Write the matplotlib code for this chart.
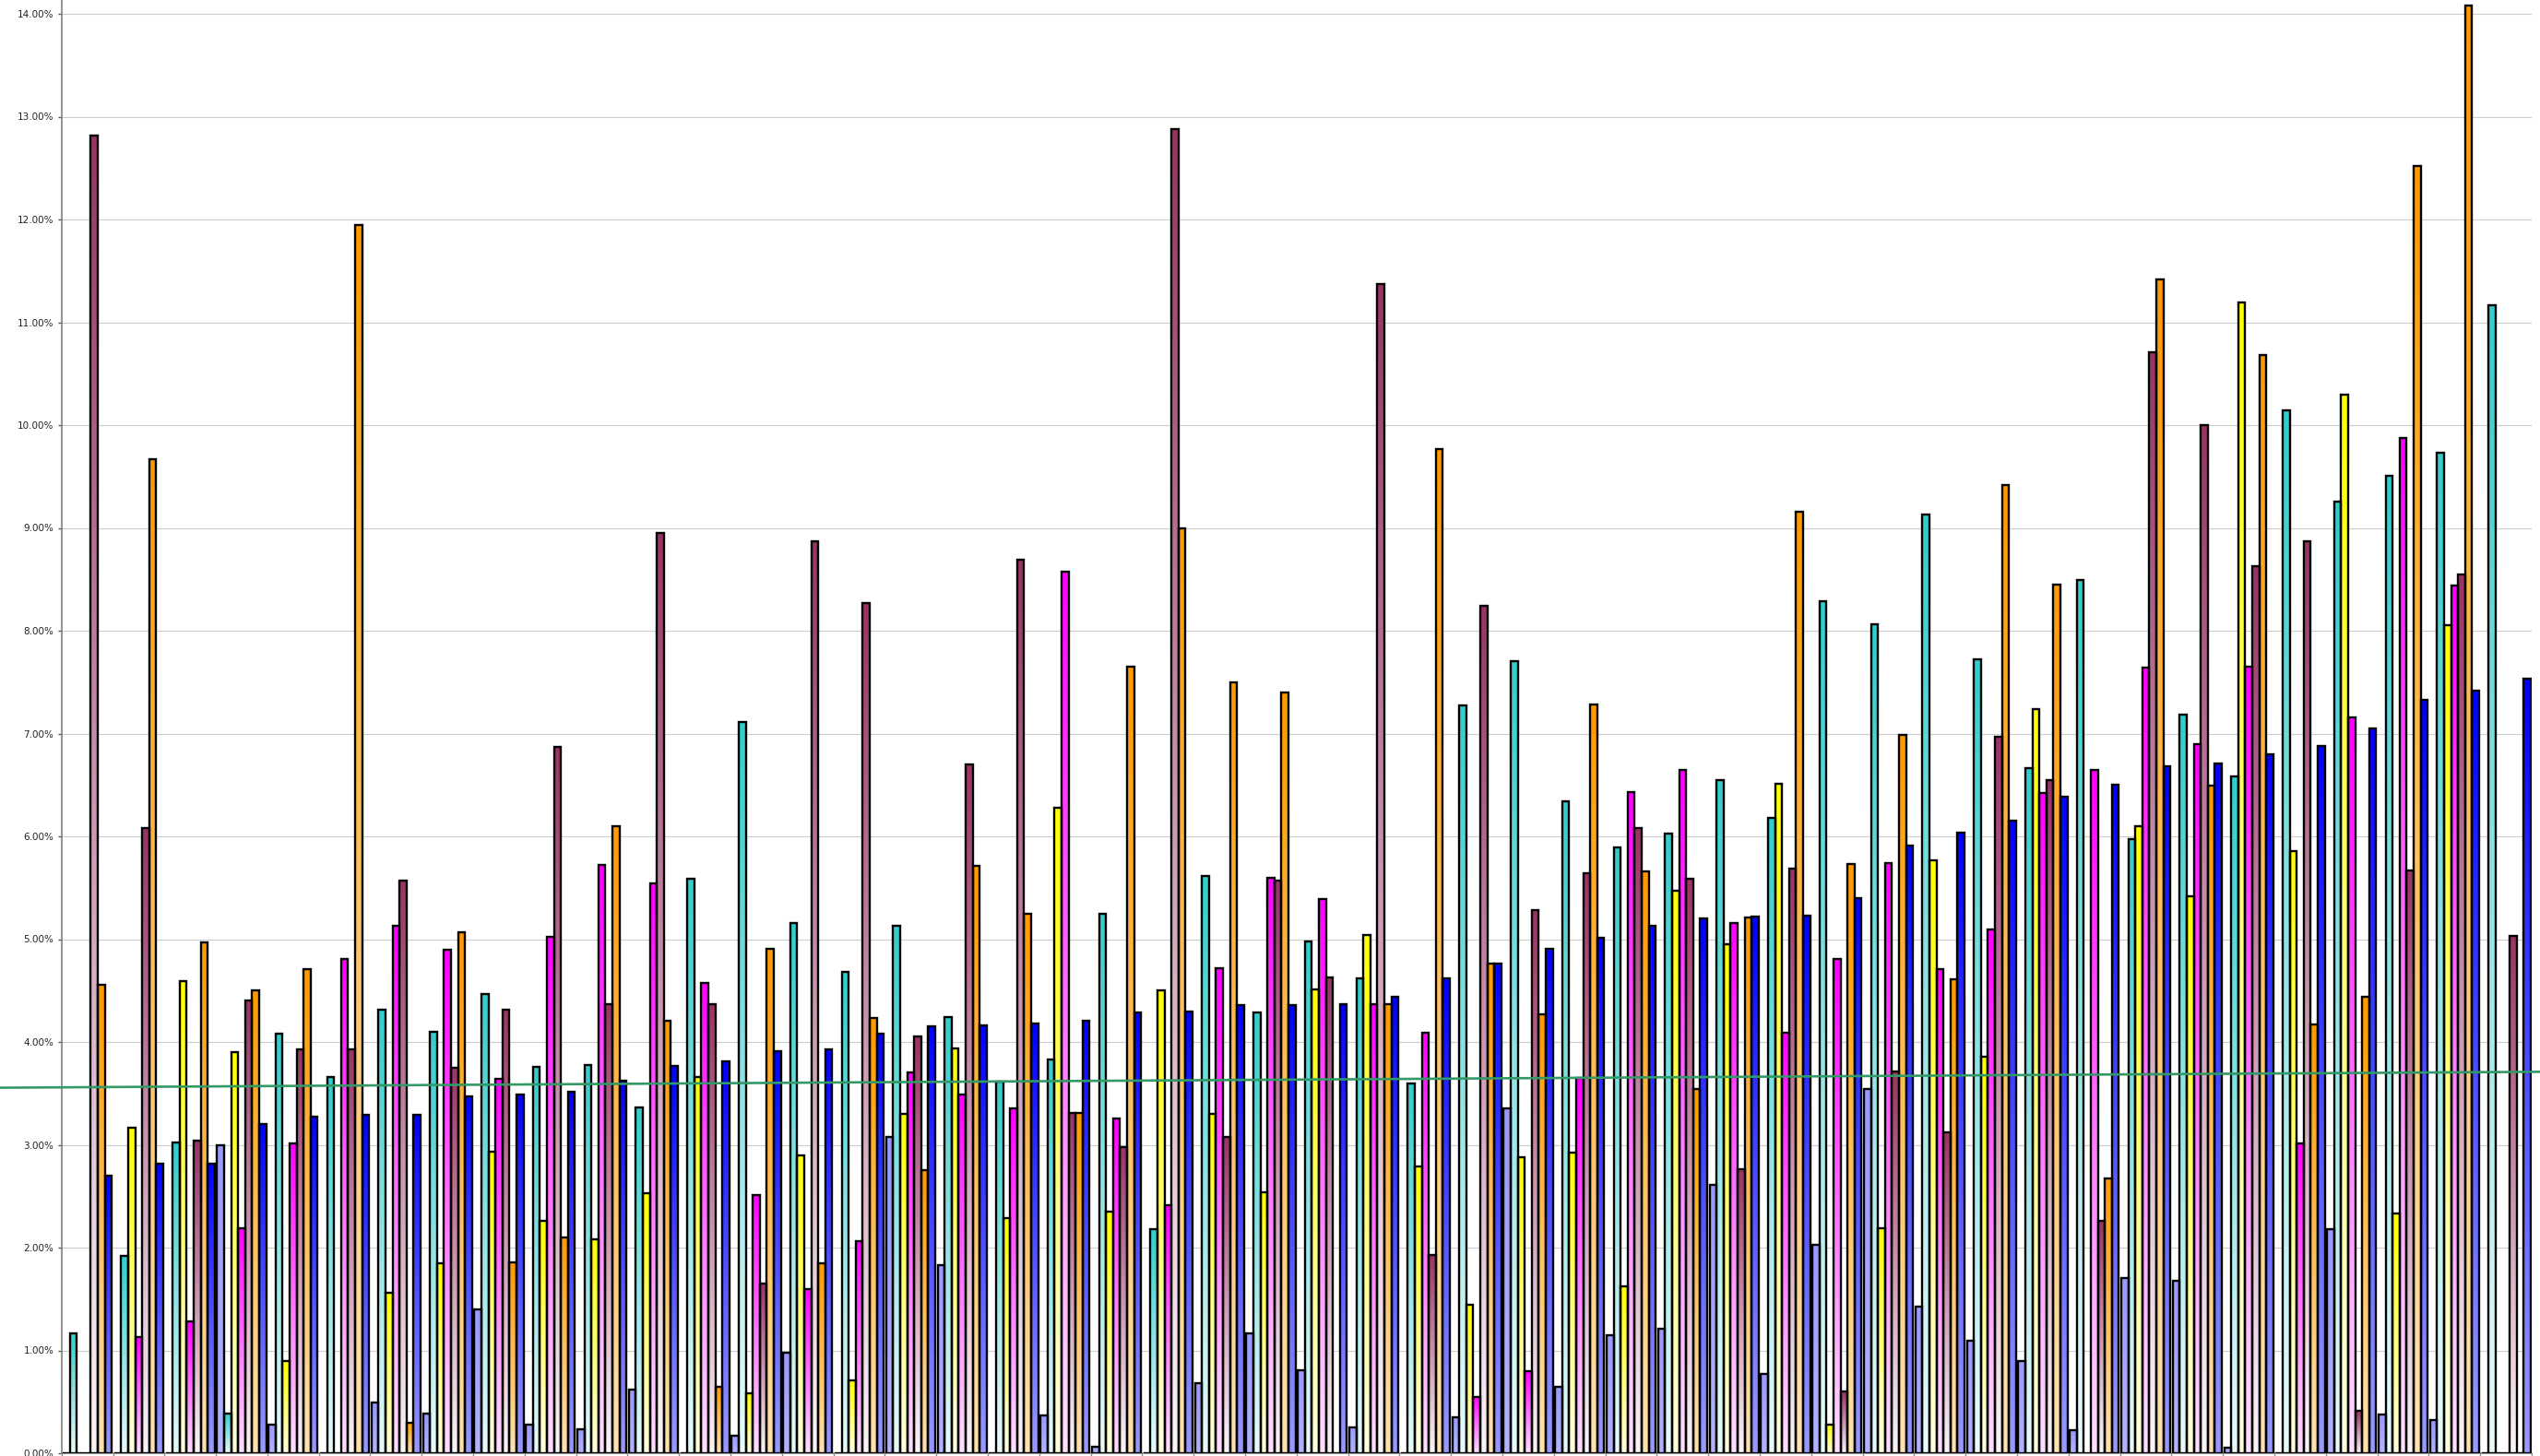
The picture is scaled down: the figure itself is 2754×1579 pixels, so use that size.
import numpy as np
import matplotlib
import matplotlib.pyplot as plt
from matplotlib.colors import LinearSegmentedColormap
from matplotlib.ticker import FuncFormatter, MultipleLocator
import matplotlib.transforms as mtransforms

matplotlib.use('Agg')

# one value per category (48 categories), in percent
periwinkle = [0, 0, 0, 3.00, 0.28, 0, 0.49, 0.39, 1.40, 0.28, 0.23, 0.62, 0, 0.17, 0.98, 0,
              3.08, 1.83, 0, 0.37, 0.06, 0, 0.68, 1.17, 0.81, 0.25, 0, 0.35, 3.35, 0.65, 1.15, 1.21,
              2.61, 0.77, 2.03, 3.54, 1.43, 1.09, 0.90, 0.22, 1.70, 1.68, 0.05, 0, 2.18, 0.38, 0.32, 0]
cyan = [1.17, 1.92, 3.02, 0.39, 4.08, 3.66, 4.31, 4.10, 4.47, 3.76, 3.78, 3.36, 5.59, 7.11, 5.16, 4.68,
        5.13, 4.24, 3.61, 3.83, 5.25, 2.18, 5.61, 4.29, 4.98, 4.62, 3.60, 7.27, 7.70, 6.34, 5.89, 6.03,
        6.55, 6.18, 8.29, 8.06, 9.13, 7.72, 6.66, 8.49, 5.97, 7.18, 6.58, 10.14, 9.26, 9.51, 9.73, 11.17]
yellow = [0, 3.17, 4.59, 3.90, 0.90, 0, 1.56, 1.85, 2.93, 2.26, 2.08, 2.53, 3.66, 0.58, 2.90, 0.71,
          3.30, 3.94, 2.29, 6.28, 2.35, 4.50, 3.30, 2.54, 4.51, 5.04, 2.79, 1.44, 2.88, 2.92, 1.62, 5.47,
          4.95, 6.51, 0.28, 2.19, 5.77, 3.86, 7.24, 0, 6.10, 5.42, 11.19, 5.86, 10.30, 2.33, 8.05, 0]
magenta = [0, 1.13, 1.28, 2.19, 3.01, 4.81, 5.13, 4.90, 3.64, 5.02, 5.72, 5.54, 4.57, 2.51, 1.60, 2.06,
           3.70, 3.49, 3.35, 8.57, 3.26, 2.41, 4.72, 5.60, 5.39, 4.37, 4.09, 0.55, 0.80, 3.65, 6.43, 6.65,
           5.16, 4.09, 4.81, 5.74, 4.71, 5.09, 6.42, 6.65, 7.64, 6.90, 7.65, 3.01, 7.16, 9.87, 8.44, 0]
maroon = [12.82, 6.08, 3.04, 4.40, 3.93, 3.93, 5.57, 3.75, 4.31, 6.87, 4.37, 8.95, 4.37, 1.65, 8.87, 8.27,
          4.05, 6.70, 8.69, 3.31, 2.98, 12.88, 3.08, 5.57, 4.63, 11.37, 1.93, 8.24, 5.28, 5.64, 6.08, 5.59,
          2.76, 5.69, 0.60, 3.71, 3.12, 6.97, 6.55, 2.26, 10.71, 10.00, 8.63, 8.87, 0.41, 5.67, 8.55, 5.03]
orange = [4.56, 9.67, 4.97, 4.50, 4.71, 11.95, 0.30, 5.07, 1.86, 2.10, 6.10, 4.21, 0.65, 4.91, 1.85, 4.23,
          2.75, 5.71, 5.25, 3.31, 7.65, 9.00, 7.50, 7.40, 0, 4.37, 9.77, 4.76, 4.27, 7.28, 5.66, 3.54,
          5.21, 9.16, 5.73, 6.99, 4.61, 9.42, 8.45, 2.67, 11.42, 6.49, 10.68, 4.17, 4.44, 12.52, 14.08, 0]
blue = [2.70, 2.82, 2.82, 3.20, 3.27, 3.29, 3.29, 3.47, 3.49, 3.52, 3.62, 3.77, 3.81, 3.91, 3.93, 4.08,
        4.15, 4.16, 4.18, 4.21, 4.29, 4.30, 4.36, 4.36, 4.37, 4.44, 4.62, 4.76, 4.91, 5.01, 5.13, 5.20,
        5.22, 5.23, 5.40, 5.91, 6.04, 6.15, 6.39, 6.50, 6.68, 6.71, 6.80, 6.88, 7.05, 7.33, 7.42, 7.53]

# green reference line, value at the left and right edge of the picture
trend = [3.555, 3.71]

series = [periwinkle, cyan, yellow, magenta, maroon, orange, blue]
# (bottom colour, top colour) of the vertical gradient
shades = [('#B3B3FF', '#9999FF'),
          ('#E8FBFB', '#33CCCC'),
          ('#FFFFE0', '#FFFF00'),
          ('#FFE0FF', '#FF00FF'),
          ('#FBF4F7', '#993366'),
          ('#FFE2B0', '#FF9900'),
          ('#9A9AFF', '#0000FF')]

W, H = 2754, 1579
fig = plt.figure(figsize=(W / 100, H / 100), dpi=100)
ax = fig.add_axes([66.7 / W, 3 / H, 48 * 55.8 / W, 1576 / H])

n = len(blue)
idx = np.arange(n)
bw = 0.1362
grad = np.linspace(0, 1, 256).reshape(-1, 1)

for s, vals in enumerate(series):
    cmap = LinearSegmentedColormap.from_list('s%d' % s, shades[s])
    xs = idx + 0.5 + (s - 3) * bw
    bars = ax.bar(xs, vals, bw, fill=False, edgecolor='black', linewidth=1.7, zorder=3)
    for b in bars:
        h = b.get_height()
        if h <= 0:
            continue
        x0 = b.get_x()
        ax.imshow(grad, cmap=cmap, origin='lower', aspect='auto', interpolation='bilinear',
                  extent=[x0, x0 + b.get_width(), 0, h], zorder=2)

ax.set_xlim(0, n)
ax.set_ylim(0, 1576 / 111.5)

tr = mtransforms.blended_transform_factory(fig.transFigure, ax.transData)
ax.plot([0, 1], trend, color='#339966', linewidth=1.9, transform=tr, clip_on=False, zorder=5)

ax.yaxis.set_major_locator(MultipleLocator(1))
ax.yaxis.set_major_formatter(FuncFormatter(lambda v, p: '%.2f%%' % v))
ax.set_xticks(np.arange(n + 1))
ax.set_xticklabels([])
ax.tick_params(axis='y', length=3, width=1, color='#555555', pad=3, labelsize=7.5, labelcolor='#222222')
ax.tick_params(axis='x', length=3, width=1, color='#888888')
ax.grid(axis='y', color='#CCCCCC', linewidth=0.8, zorder=0)
ax.set_axisbelow(True)

for side in ('top', 'right'):
    ax.spines[side].set_visible(False)
ax.spines['left'].set_color('#808080')
ax.spines['left'].set_linewidth(1.2)
ax.spines['bottom'].set_color('#808080')
ax.spines['bottom'].set_linewidth(1.2)

fig.savefig('out.png', dpi=100)
